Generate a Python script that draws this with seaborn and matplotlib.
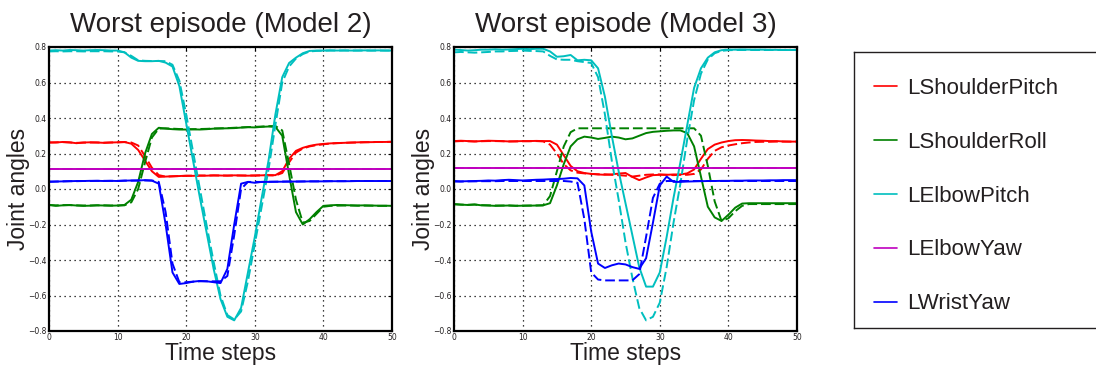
import matplotlib
matplotlib.use("Agg")
import matplotlib.pyplot as plt
import numpy as np
import pandas as pd
import seaborn as sns
from matplotlib.lines import Line2D

# ---------------------------------------------------------------- data
steps = list(range(51))
joints = ["LShoulderPitch", "LShoulderRoll", "LElbowPitch", "LElbowYaw", "LWristYaw"]
joint_colors = ["#ff0000", "#008000", "#00bfbf", "#bf00bf", "#0000ff"]
titles = ["Worst episode (Model 2)", "Worst episode (Model 3)"]

# Model 2 -- executed (solid) and target (dashed) joint angles
m2_pitch_actual = [0.262, 0.262, 0.265, 0.263, 0.258, 0.262, 0.263, 0.262, 0.260, 0.262, 0.263, 0.265,
                   0.255, 0.220, 0.160, 0.100, 0.068, 0.070, 0.072, 0.073, 0.075, 0.074, 0.076, 0.075,
                   0.077, 0.076, 0.075, 0.077, 0.076, 0.075, 0.076, 0.077, 0.078, 0.078, 0.100, 0.170,
                   0.215, 0.232, 0.243, 0.250, 0.254, 0.257, 0.259, 0.260, 0.262, 0.263, 0.264, 0.264,
                   0.265, 0.265, 0.266]
m2_pitch_target = [0.262, 0.263, 0.264, 0.262, 0.260, 0.261, 0.262, 0.262, 0.261, 0.262, 0.263, 0.264,
                   0.262, 0.245, 0.185, 0.120, 0.078, 0.070, 0.071, 0.073, 0.074, 0.075, 0.075, 0.076,
                   0.076, 0.076, 0.076, 0.076, 0.076, 0.076, 0.076, 0.077, 0.077, 0.076, 0.090, 0.150,
                   0.205, 0.228, 0.240, 0.247, 0.252, 0.256, 0.258, 0.260, 0.261, 0.262, 0.263, 0.264,
                   0.265, 0.265, 0.266]
m2_roll_actual = [-0.090, -0.095, -0.092, -0.090, -0.093, -0.095, -0.094, -0.092, -0.093, -0.094, -0.093,
                  -0.090, -0.060, 0.040, 0.200, 0.310, 0.345, 0.340, 0.337, 0.335, 0.335, 0.336, 0.335,
                  0.337, 0.340, 0.341, 0.342, 0.343, 0.346, 0.348, 0.347, 0.350, 0.352, 0.350, 0.300,
                  0.080, -0.130, -0.200, -0.170, -0.130, -0.095, -0.092, -0.090, -0.091, -0.092, -0.093,
                  -0.092, -0.093, -0.094, -0.094, -0.095]
m2_roll_target = [-0.090, -0.092, -0.091, -0.091, -0.092, -0.093, -0.093, -0.092, -0.092, -0.093, -0.093,
                  -0.092, -0.075, 0.000, 0.150, 0.290, 0.340, 0.342, 0.340, 0.338, 0.337, 0.337, 0.338,
                  0.339, 0.341, 0.342, 0.343, 0.345, 0.347, 0.349, 0.350, 0.352, 0.354, 0.355, 0.330,
                  0.140, -0.060, -0.190, -0.180, -0.140, -0.100, -0.095, -0.094, -0.093, -0.093, -0.094,
                  -0.094, -0.094, -0.095, -0.095, -0.095]
m2_elbow_actual = [0.780, 0.782, 0.780, 0.783, 0.782, 0.780, 0.782, 0.783, 0.782, 0.780, 0.780, 0.770,
                   0.740, 0.722, 0.720, 0.720, 0.722, 0.712, 0.690, 0.580, 0.370, 0.160, -0.050, -0.250,
                   -0.450, -0.620, -0.720, -0.740, -0.670, -0.470, -0.270, -0.050, 0.160, 0.420, 0.630,
                   0.710, 0.740, 0.765, 0.778, 0.780, 0.780, 0.781, 0.780, 0.781, 0.780, 0.780, 0.781,
                   0.780, 0.781, 0.780, 0.780]
m2_elbow_target = [0.775, 0.776, 0.775, 0.776, 0.776, 0.775, 0.776, 0.776, 0.776, 0.775, 0.775, 0.770,
                   0.750, 0.725, 0.722, 0.721, 0.721, 0.720, 0.700, 0.610, 0.420, 0.210, 0.000, -0.210,
                   -0.410, -0.600, -0.710, -0.735, -0.690, -0.520, -0.310, -0.100, 0.110, 0.360, 0.600,
                   0.690, 0.735, 0.760, 0.775, 0.778, 0.779, 0.780, 0.780, 0.780, 0.780, 0.780, 0.780,
                   0.780, 0.780, 0.780, 0.780]
m2_yaw_actual = [0.113, 0.113, 0.113, 0.113, 0.113, 0.113, 0.113, 0.113, 0.113, 0.113, 0.113, 0.113,
                 0.113, 0.113, 0.113, 0.113, 0.113, 0.113, 0.113, 0.113, 0.113, 0.113, 0.113, 0.113,
                 0.113, 0.113, 0.113, 0.113, 0.113, 0.113, 0.113, 0.113, 0.113, 0.113, 0.113, 0.113,
                 0.113, 0.113, 0.113, 0.113, 0.113, 0.113, 0.113, 0.113, 0.113, 0.113, 0.113, 0.113,
                 0.113, 0.113, 0.113]
m2_yaw_target = [0.113, 0.113, 0.113, 0.113, 0.113, 0.113, 0.113, 0.113, 0.113, 0.113, 0.113, 0.113,
                 0.113, 0.113, 0.113, 0.113, 0.113, 0.113, 0.113, 0.113, 0.113, 0.113, 0.113, 0.113,
                 0.113, 0.113, 0.113, 0.113, 0.113, 0.113, 0.113, 0.113, 0.113, 0.113, 0.113, 0.113,
                 0.113, 0.113, 0.113, 0.113, 0.113, 0.113, 0.113, 0.113, 0.113, 0.113, 0.113, 0.113,
                 0.113, 0.113, 0.113]
m2_wrist_actual = [0.040, 0.042, 0.043, 0.044, 0.045, 0.045, 0.046, 0.046, 0.045, 0.046, 0.045, 0.047,
                   0.048, 0.048, 0.050, 0.047, 0.030, -0.200, -0.470, -0.535, -0.530, -0.522, -0.518,
                   -0.520, -0.525, -0.530, -0.450, -0.200, 0.030, 0.040, 0.035, 0.040, 0.040, 0.041,
                   0.041, 0.042, 0.042, 0.042, 0.043, 0.043, 0.043, 0.044, 0.044, 0.044, 0.044, 0.045,
                   0.045, 0.045, 0.045, 0.045, 0.045]
m2_wrist_target = [0.042, 0.042, 0.043, 0.044, 0.044, 0.045, 0.045, 0.046, 0.046, 0.046, 0.046, 0.047,
                   0.047, 0.048, 0.048, 0.048, 0.040, -0.130, -0.420, -0.525, -0.525, -0.522, -0.520,
                   -0.520, -0.520, -0.520, -0.490, -0.260, 0.000, 0.040, 0.040, 0.040, 0.041, 0.041,
                   0.042, 0.042, 0.042, 0.043, 0.043, 0.043, 0.044, 0.044, 0.044, 0.044, 0.045, 0.045,
                   0.045, 0.045, 0.045, 0.045, 0.045]

# Model 3 -- executed (solid) and target (dashed) joint angles
m3_pitch_actual = [0.270, 0.272, 0.270, 0.268, 0.270, 0.272, 0.271, 0.270, 0.268, 0.269, 0.270, 0.270,
                   0.271, 0.270, 0.270, 0.250, 0.190, 0.130, 0.100, 0.090, 0.085, 0.082, 0.080, 0.082,
                   0.087, 0.090, 0.068, 0.050, 0.065, 0.078, 0.080, 0.080, 0.082, 0.082, 0.088, 0.110,
                   0.170, 0.225, 0.250, 0.262, 0.270, 0.275, 0.276, 0.275, 0.273, 0.272, 0.270, 0.270,
                   0.268, 0.267, 0.267]
m3_pitch_target = [0.268, 0.270, 0.269, 0.268, 0.269, 0.270, 0.270, 0.269, 0.268, 0.268, 0.269, 0.269,
                   0.270, 0.268, 0.250, 0.200, 0.140, 0.105, 0.092, 0.088, 0.085, 0.083, 0.083, 0.080,
                   0.078, 0.075, 0.070, 0.075, 0.080, 0.082, 0.082, 0.080, 0.078, 0.080, 0.080, 0.085,
                   0.110, 0.170, 0.215, 0.235, 0.245, 0.252, 0.258, 0.262, 0.265, 0.266, 0.266, 0.267,
                   0.267, 0.267, 0.267]
m3_roll_actual = [-0.085, -0.088, -0.090, -0.087, -0.092, -0.093, -0.095, -0.094, -0.093, -0.095, -0.094,
                  -0.094, -0.093, -0.092, -0.080, 0.020, 0.140, 0.240, 0.280, 0.295, 0.290, 0.282, 0.288,
                  0.295, 0.290, 0.280, 0.285, 0.300, 0.315, 0.322, 0.325, 0.328, 0.330, 0.330, 0.315,
                  0.240, 0.070, -0.100, -0.160, -0.180, -0.145, -0.105, -0.082, -0.080, -0.080, -0.080,
                  -0.080, -0.080, -0.080, -0.080, -0.080]
m3_roll_target = [-0.086, -0.088, -0.089, -0.088, -0.091, -0.092, -0.093, -0.093, -0.093, -0.094, -0.094,
                  -0.093, -0.093, -0.092, -0.040, 0.100, 0.240, 0.320, 0.342, 0.342, 0.342, 0.342, 0.342,
                  0.342, 0.342, 0.342, 0.342, 0.342, 0.342, 0.342, 0.342, 0.342, 0.342, 0.342, 0.342,
                  0.342, 0.300, 0.130, -0.070, -0.180, -0.165, -0.125, -0.095, -0.085, -0.085, -0.085,
                  -0.085, -0.085, -0.085, -0.085, -0.085]
m3_elbow_actual = [0.785, 0.783, 0.780, 0.782, 0.785, 0.785, 0.787, 0.785, 0.786, 0.788, 0.790, 0.788,
                   0.790, 0.790, 0.775, 0.745, 0.748, 0.755, 0.725, 0.728, 0.725, 0.680, 0.520, 0.300,
                   0.100, -0.080, -0.260, -0.440, -0.550, -0.550, -0.470, -0.270, -0.050, 0.150, 0.360,
                   0.570, 0.680, 0.740, 0.770, 0.782, 0.785, 0.785, 0.786, 0.785, 0.785, 0.785, 0.784,
                   0.784, 0.783, 0.783, 0.783]
m3_elbow_target = [0.770, 0.772, 0.770, 0.768, 0.770, 0.772, 0.775, 0.775, 0.777, 0.778, 0.780, 0.778,
                   0.777, 0.775, 0.750, 0.730, 0.728, 0.728, 0.720, 0.715, 0.710, 0.630, 0.420, 0.160,
                   -0.060, -0.300, -0.500, -0.670, -0.740, -0.720, -0.640, -0.440, -0.190, 0.030, 0.280,
                   0.500, 0.650, 0.730, 0.765, 0.778, 0.782, 0.783, 0.783, 0.783, 0.783, 0.783, 0.783,
                   0.783, 0.783, 0.783, 0.783]
m3_yaw_actual = [0.117, 0.117, 0.117, 0.117, 0.117, 0.117, 0.117, 0.117, 0.117, 0.117, 0.117, 0.117,
                 0.117, 0.117, 0.117, 0.117, 0.117, 0.117, 0.117, 0.117, 0.117, 0.117, 0.117, 0.117,
                 0.117, 0.117, 0.117, 0.117, 0.117, 0.117, 0.117, 0.117, 0.117, 0.117, 0.117, 0.117,
                 0.117, 0.117, 0.117, 0.117, 0.117, 0.117, 0.117, 0.117, 0.117, 0.117, 0.117, 0.117,
                 0.117, 0.117, 0.117]
m3_yaw_target = [0.117, 0.117, 0.117, 0.117, 0.117, 0.117, 0.117, 0.117, 0.117, 0.117, 0.117, 0.117,
                 0.117, 0.117, 0.117, 0.117, 0.117, 0.117, 0.117, 0.117, 0.117, 0.117, 0.117, 0.117,
                 0.117, 0.117, 0.117, 0.117, 0.117, 0.117, 0.117, 0.117, 0.117, 0.117, 0.117, 0.117,
                 0.117, 0.117, 0.117, 0.117, 0.117, 0.117, 0.117, 0.117, 0.117, 0.117, 0.117, 0.117,
                 0.117, 0.117, 0.117]
m3_wrist_actual = [0.045, 0.043, 0.044, 0.045, 0.046, 0.048, 0.047, 0.050, 0.052, 0.050, 0.048, 0.050,
                   0.052, 0.053, 0.055, 0.056, 0.058, 0.062, 0.060, 0.020, -0.240, -0.420, -0.445, -0.430,
                   -0.420, -0.425, -0.440, -0.450, -0.390, -0.190, 0.020, 0.070, 0.040, 0.040, 0.042,
                   0.043, 0.044, 0.045, 0.045, 0.046, 0.046, 0.047, 0.047, 0.048, 0.048, 0.048, 0.049,
                   0.049, 0.050, 0.050, 0.050]
m3_wrist_target = [0.042, 0.042, 0.043, 0.043, 0.044, 0.044, 0.044, 0.045, 0.045, 0.045, 0.045, 0.045,
                   0.045, 0.045, 0.045, 0.045, 0.045, 0.042, 0.035, -0.170, -0.470, -0.510, -0.515, -0.515,
                   -0.515, -0.515, -0.515, -0.480, -0.270, -0.050, 0.030, 0.045, 0.045, 0.045, 0.045,
                   0.045, 0.045, 0.045, 0.045, 0.045, 0.045, 0.045, 0.045, 0.045, 0.045, 0.045, 0.045,
                   0.045, 0.045, 0.045, 0.045]

model_series = [
    {"actual": [m2_pitch_actual, m2_roll_actual, m2_elbow_actual, m2_yaw_actual, m2_wrist_actual],
     "target": [m2_pitch_target, m2_roll_target, m2_elbow_target, m2_yaw_target, m2_wrist_target]},
    {"actual": [m3_pitch_actual, m3_roll_actual, m3_elbow_actual, m3_yaw_actual, m3_wrist_actual],
     "target": [m3_pitch_target, m3_roll_target, m3_elbow_target, m3_yaw_target, m3_wrist_target]},
]


def long_frame(series):
    rows = []
    for kind in ("target", "actual"):
        for joint, values in zip(joints, series[kind]):
            for s, v in zip(steps, values):
                rows.append({"step": s, "angle": v, "joint": joint, "kind": kind})
    return pd.DataFrame(rows)


# ---------------------------------------------------------------- style
sns.set_style("white")
text_font = ["Liberation Sans", "DejaVu Sans"]
text_color = "#231f20"
plt.rcParams["font.family"] = ["DejaVu Sans"]

W, H = 1096, 366
fig = plt.figure(figsize=(W / 100, H / 100), dpi=100)
palette = dict(zip(joints, joint_colors))

axes_px = [(49, 47, 343, 284), (454, 47, 343, 284)]
for (x0, y0, w, h), series, title in zip(axes_px, model_series, titles):
    ax = fig.add_axes([x0 / W, (H - y0 - h) / H, w / W, h / H])
    df = long_frame(series)
    sns.lineplot(data=df, x="step", y="angle", hue="joint", style="kind",
                 hue_order=joints, style_order=["actual", "target"],
                 palette=palette, dashes={"actual": "", "target": (5, 2)},
                 linewidth=1.4, estimator=None, legend=False, ax=ax)
    ax.set_xlim(0, 50)
    ax.set_ylim(-0.8, 0.8)
    ax.set_xticks([0, 10, 20, 30, 40, 50])
    ax.set_yticks([-0.8, -0.6, -0.4, -0.2, 0.0, 0.2, 0.4, 0.6, 0.8])
    ax.grid(True, color="black", linestyle=(0, (1, 3)), linewidth=0.9)
    ax.tick_params(labelsize=5.5, direction="in", length=3, width=0.8,
                   top=True, right=True, pad=1.5, colors="black", labelcolor=text_color)
    for sp in ax.spines.values():
        sp.set_color("black")
        sp.set_linewidth(1.6)
    ax.set_title(title, fontsize=20, family=text_font, color=text_color, pad=11)
    ax.set_xlabel("Time steps", fontsize=16.5, family=text_font, color=text_color, labelpad=0)
    ax.set_ylabel("Joint angles", fontsize=16.5, family=text_font, color=text_color, labelpad=-1)

# legend box
lax = fig.add_axes([854 / W, (H - 328) / H, 290 / W, 276 / H])
lax.set_xticks([])
lax.set_yticks([])
for sp in lax.spines.values():
    sp.set_color("#231f20")
    sp.set_linewidth(1.0)
handles = [Line2D([], [], color=c, linewidth=1.2) for c in joint_colors]
lax.legend(handles, joints, loc="center left", bbox_to_anchor=(20 / 290, 0.478),
           frameon=False, borderpad=0, borderaxespad=0, handlelength=1.05,
           handletextpad=0.45, labelspacing=1.48,
           prop={"family": text_font, "size": 16}, labelcolor=text_color)

fig.savefig("out.png", dpi=100)
